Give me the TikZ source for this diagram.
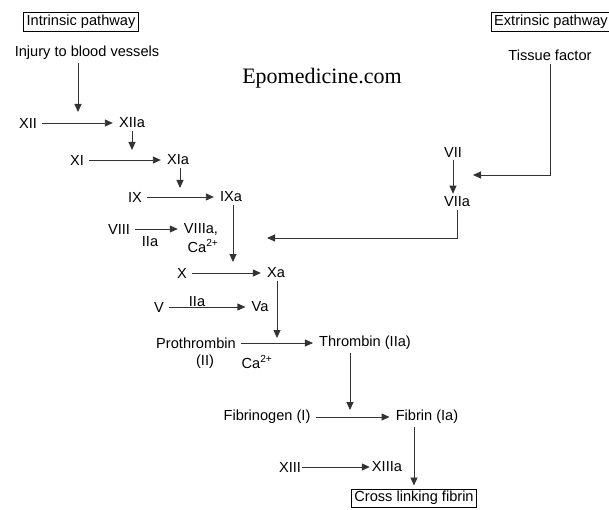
\documentclass[tikz,border=0pt]{standalone}
\usepackage{fontspec}
\setmainfont{Liberation Sans}
\newfontfamily\wmfont{Liberation Serif}
\usetikzlibrary{arrows.meta}
\begin{document}
\begin{tikzpicture}[
        x=1pt, y=-1pt,
        every node/.style={inner sep=1pt, font=\fontsize{14.6}{16}\selectfont},
        box/.style={draw, inner xsep=3pt, inner ysep=2.5pt},
        conv/.style={draw=black!80, line width=0.9pt, -{Triangle[length=8pt,width=7pt]}, shorten <=4pt, shorten >=5pt},
        feed/.style={conv, shorten <=2pt, shorten >=0pt},
    ]
    \useasboundingbox (0,0) rectangle (609,510);
    \node[box](intr) at (81,22) {Intrinsic pathway};
    \node[box](extr) at (551,22) {Extrinsic pathway};
    \node[](injury) at (87,53) {Injury to blood vessels};
    \node[](tissue) at (550,55) {Tissue factor};
    \node[font=\fontsize{22}{24}\wmfont](wm) at (322,78) {Epomedicine.com};
    \node[](xii) at (28,123) {XII};
    \node[](xiia) at (132,123) {XIIa};
    \node[](xi) at (77,160) {XI};
    \node[](xia) at (178,160) {XIa};
    \node[](ix) at (135,197) {IX};
    \node[](ixa) at (231,197) {IXa};
    \node[](viii) at (119,229) {VIII};
    \node[](viiia) at (201,229) {VIIIa,};
    \node[](ca1) at (203,246) {Ca\textsuperscript{2+}};
    \node[](iia1) at (150,242) {IIa};
    \node[](x) at (182,273) {X};
    \node[](xa) at (276,273) {Xa};
    \node[](v) at (159,307) {V};
    \node[](va) at (260,307) {Va};
    \node[](iia2) at (197,302) {IIa};
    \node[](proth) at (196,343) {Prothrombin};
    \node[](proth2) at (205,362) {(II)};
    \node[](ca2) at (257,362) {Ca\textsuperscript{2+}};
    \node[](thromb) at (365,343) {Thrombin (IIa)};
    \node[](fibgen) at (267,417) {Fibrinogen (I)};
    \node[](fibrin) at (427,417) {Fibrin (Ia)};
    \node[](xiii) at (290,467) {XIII};
    \node[](xiiia) at (387,467) {XIIIa};
    \node[box](cross) at (414,498) {Cross linking fibrin};
    \node[](vii) at (453,152) {VII};
    \node[](viia) at (457,202) {VIIa};
    \coordinate (j1) at (78,112);
    \coordinate (j2) at (132,150);
    \coordinate (j3) at (180,188);
    \coordinate (j4) at (233,262);
    \coordinate (j5) at (277,338);
    \coordinate (j6) at (350,410);
    \coordinate (t1) at (473,175);
    \coordinate (t2) at (267,238);
    \draw[conv] (xii) -- (xiia);
    \draw[conv] (xi) -- (xia);
    \draw[conv] (ix) -- (ixa);
    \draw[conv] (viii) -- (viiia);
    \draw[conv] (x) -- (xa);
    \draw[conv] (v) -- (va);
    \draw[conv] (proth) -- (thromb);
    \draw[conv] (fibgen) -- (fibrin);
    \draw[conv, shorten <=0pt, shorten >=1pt] (xiii) -- (xiiia);
    \draw[feed] (injury.south -| j1) -- (j1);
    \draw[feed] (xiia) -- (j2);
    \draw[feed] (xia.south -| j3) -- (j3);
    \draw[feed] (ixa.south -| j4) -- (j4);
    \draw[feed] (xa.south -| j5) -- (j5);
    \draw[feed] (thromb.south -| j6) -- (j6);
    \draw[feed, shorten >=3pt] (fibrin.south -| cross.north) -- (cross.north);
    \draw[feed, shorten >=2pt] (vii.south) -- (vii.south |- viia.north);
    \draw[feed] (tissue.south) |- (t1);
    \draw[feed] (viia.south) |- (t2);
    \end{tikzpicture}
\end{document}
